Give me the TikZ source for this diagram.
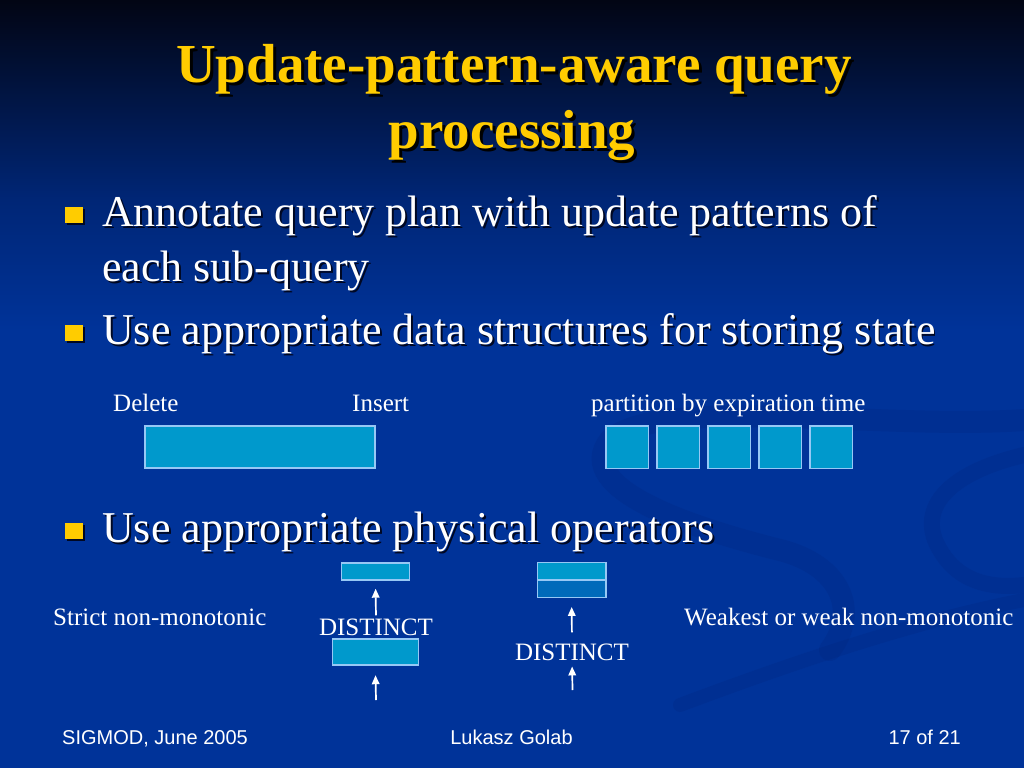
\documentclass[tikz,border=0pt]{standalone}
\usepackage{fontspec}
\setmainfont{Liberation Serif}
\newfontfamily\footfont{Liberation Sans}
\usetikzlibrary{arrows.meta}
\definecolor{slideblue}{RGB}{0,51,153}
\definecolor{midblue}{RGB}{0,38,118}
\definecolor{topdark}{RGB}{2,5,20}
\definecolor{titleyellow}{RGB}{255,204,0}
\definecolor{boxfill}{RGB}{0,153,204}
\definecolor{boxdark}{RGB}{0,106,186}
\definecolor{boxedge}{RGB}{150,200,245}
\definecolor{shadowc}{RGB}{0,8,35}
\definecolor{swirldark}{RGB}{0,32,115}
\newcommand{\dropshadowtext}[3]{\makebox[0pt][l]{\hspace*{#2}\raisebox{-#2}[0pt][0pt]{\textcolor{#3}{#1}}}#1}
\begin{document}
\begin{tikzpicture}[x=1pt,y=-1pt,
  titletext/.style={font=\fontsize{55}{55}\selectfont\bfseries, text=titleyellow, inner sep=0pt, anchor=base},
  bullettext/.style={font=\fontsize{44}{44}\selectfont, text=white, inner sep=0pt, anchor=base west},
  bulletsq/.style={fill=titleyellow, draw=none},
  sqshadow/.style={fill=shadowc, draw=none},
  label/.style={font=\fontsize{25}{25}\selectfont, text=white, inner sep=0pt},
  footer/.style={font=\footfont\fontsize{20}{20}\selectfont, text=white, inner sep=0pt},
  cell/.style={fill=boxfill, draw=boxedge, line width=1.4pt},
  celldark/.style={fill=boxdark, draw=boxedge, line width=1.4pt},
  arr/.style={draw=white, line width=1.7pt, -{Triangle[length=9pt,width=7.5pt]}}
]
\useasboundingbox (0,0) rectangle (1024,768);
% background
\fill[slideblue] (0,0) rectangle (1024,768);
\shade[top color=topdark, bottom color=midblue] (0,0) rectangle (1024,200);
\shade[top color=midblue, bottom color=slideblue] (0,199.5) rectangle (1024,330);
% faint swirl decoration
\begin{scope}[swirldark, opacity=0.18, line cap=round]
\draw[line width=22pt]
  (1024,420) .. controls (880,430) and (660,395) .. (610,440)
  .. controls (570,490) and (700,530) .. (780,550)
  .. controls (840,565) and (860,610) .. (830,650);
\draw[line width=16pt]
  (1024,455) .. controls (960,470) and (920,500) .. (935,540)
  .. controls (950,575) and (980,590) .. (1024,585);
\draw[line width=14pt]
  (680,705) .. controls (800,660) and (920,620) .. (1024,600);
\end{scope}

% title
\node[titletext] (t1) at (514,82) {\dropshadowtext{Update-pattern-aware query}{3pt}{black}};
\node[titletext] (t2) at (512,148) {\dropshadowtext{processing}{3pt}{black}};

% bullets
\fill[sqshadow] (67,209) rectangle (85,225);
\fill[bulletsq] (65,207) rectangle (83,223);
\node[bullettext] (b1a) at (102,226) {\dropshadowtext{Annotate query plan with update patterns of}{2pt}{shadowc}};
\node[bullettext] (b1b) at (102,281) {\dropshadowtext{each sub-query}{2pt}{shadowc}};

\fill[sqshadow] (67,327) rectangle (85,343);
\fill[bulletsq] (65,325) rectangle (83,341);
\node[bullettext] (b2) at (102,344) {\dropshadowtext{Use appropriate data structures for storing state}{2pt}{shadowc}};

\fill[sqshadow] (67,525) rectangle (85,541);
\fill[bulletsq] (65,523) rectangle (83,539);
\node[bullettext] (b3) at (102,542) {\dropshadowtext{Use appropriate physical operators}{2pt}{shadowc}};

% data structures
\node[label, anchor=base west] (del) at (113,411) {Delete};
\node[label, anchor=base west] (ins) at (352,411) {Insert};
\node[label, anchor=base west] (part) at (591,411) {partition by expiration time};
\draw[cell] (145,426) rectangle (375,468);
\foreach \i in {0,...,4} {
  \draw[cell] (606+51*\i,426) rectangle (648.5+51*\i,468.5);
}

% operators
\node[label, anchor=base west] (strict) at (53,625) {Strict non-monotonic};
\node[label, anchor=base west] (weak) at (684,625) {Weakest or weak non-monotonic};

\node[cell, minimum width=68pt, minimum height=17pt, inner sep=0pt] (ltop) at (375.5,571.5) {};
\node[label, anchor=base] (dl) at (376,635) {DISTINCT};
\node[cell, minimum width=86pt, minimum height=26pt, inner sep=0pt] (lbot) at (375.3,652) {};
\coordinate (lin) at (376,700);
\draw[arr, shorten <=3pt, shorten >=8pt] (dl.north) -- (ltop.south);
\draw[arr, shorten >=9.5pt] (lin) -- (lbot.south);

\node[cell, minimum width=68.5pt, minimum height=17.3pt, inner sep=0pt] (rtop) at (571.6,571.3) {};
\node[celldark, minimum width=68.5pt, minimum height=17.3pt, inner sep=0pt] (rlow) at (571.6,588.6) {};
\node[label, anchor=base] (dr) at (572,660) {DISTINCT};
\coordinate (rin) at (572.5,690);
\draw[arr, shorten <=11pt, shorten >=9pt] (dr.north) -- (rlow.south);
\draw[arr, shorten >=6pt] (rin) -- (dr.south);

% footer
\node[footer, anchor=base west] (f1) at (62,744) {SIGMOD, June 2005};
\node[footer, anchor=base] (f2) at (511.5,744) {Lukasz Golab};
\node[footer, anchor=base east] (f3) at (961,744) {17 of 21};
\end{tikzpicture}
\end{document}
